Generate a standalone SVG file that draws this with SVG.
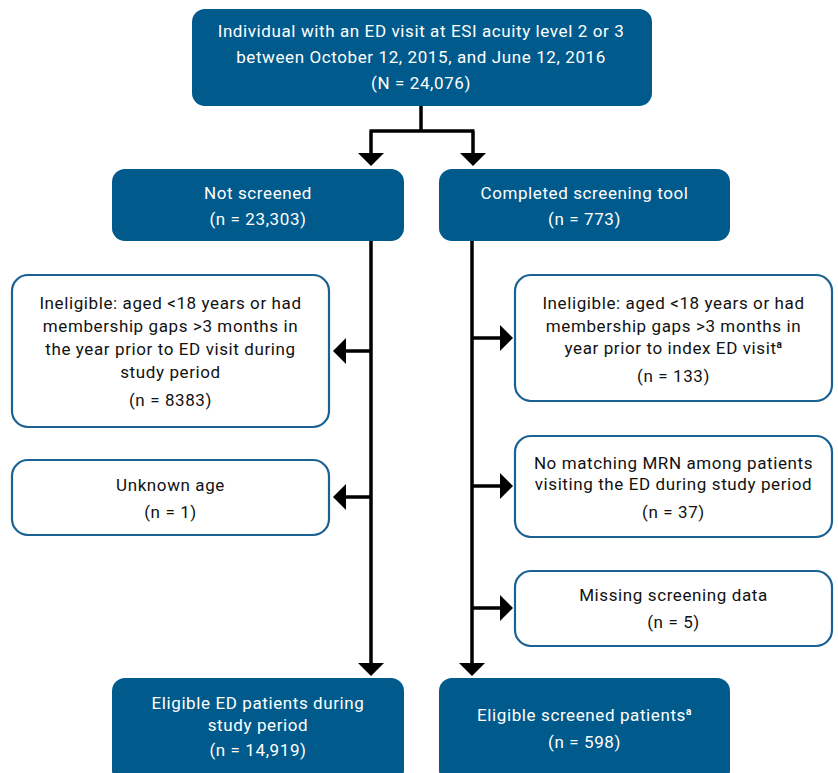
<svg xmlns="http://www.w3.org/2000/svg" width="838" height="773" viewBox="0 0 838 773">
<style>
.fill{fill:#005a8c}
.out{fill:#fff;stroke:#1b6194;stroke-width:2.2}
text{font-family:"Roboto","Liberation Sans",sans-serif;font-size:17px;text-anchor:middle;letter-spacing:0.6px}
.w{fill:#fff}
.k{fill:#111}
.sup{font-size:10px;font-weight:bold}
.ln{stroke:#000;stroke-width:3.5;fill:none}
</style>
<g id="connectors">
<path class="ln" d="M421,106 V131 M369.5,131 H474.5 M371,131 V154 M473,131 V154"/>
<polygon points="358,153 384,153 371,166"/>
<polygon points="460,153 486,153 473,166"/>
<path class="ln" d="M371,241 V664"/>
<path class="ln" d="M472,241 V664"/>
<polygon points="358,663 384,663 371,676"/>
<polygon points="459,663 485,663 472,676"/>
<path class="ln" d="M371,351 H345 M371,497 H345 M472,338 H501 M472,486 H501 M472,608 H501"/>
<polygon points="346,338 346,364 333,351"/>
<polygon points="346,484 346,510 333,497"/>
<polygon points="500,325 500,351 513,338"/>
<polygon points="500,473 500,499 513,486"/>
<polygon points="500,595 500,621 513,608"/>
</g>
<g id="n-top">
<rect class="fill" x="192" y="9" width="460" height="97" rx="13"/>
<text class="w" x="421" y="37">Individual with an ED visit at ESI acuity level 2 or 3</text>
<text class="w" x="421" y="63">between October 12, 2015, and June 12, 2016</text>
<text class="w" x="421" y="89">(N = 24,076)</text>
</g>
<g id="n-notscreened">
<rect class="fill" x="112" y="169" width="292" height="72" rx="13"/>
<text class="w" x="258" y="199">Not screened</text>
<text class="w" x="258" y="225">(n = 23,303)</text>
</g>
<g id="n-completed">
<rect class="fill" x="439" y="169" width="291" height="72" rx="13"/>
<text class="w" x="584.5" y="199">Completed screening tool</text>
<text class="w" x="584.5" y="225">(n = 773)</text>
</g>
<g id="n-inelig-left">
<rect class="out" x="12" y="275" width="317" height="152" rx="16"/>
<text class="k" x="170.5" y="309">Ineligible: aged &lt;18 years or had</text>
<text class="k" x="170.5" y="332">membership gaps &gt;3 months in</text>
<text class="k" x="170.5" y="355">the year prior to ED visit during</text>
<text class="k" x="170.5" y="378">study period</text>
<text class="k" x="170.5" y="406">(n = 8383)</text>
</g>
<g id="n-unknown">
<rect class="out" x="12" y="460" width="317" height="75" rx="16"/>
<text class="k" x="170.5" y="491">Unknown age</text>
<text class="k" x="170.5" y="518">(n = 1)</text>
</g>
<g id="n-inelig-right">
<rect class="out" x="515" y="275" width="317" height="126" rx="16"/>
<text class="k" x="673.5" y="309">Ineligible: aged &lt;18 years or had</text>
<text class="k" x="673.5" y="332">membership gaps &gt;3 months in</text>
<text class="k" x="673.5" y="354">year prior to index ED visit<tspan class="sup" dy="-6">a</tspan></text>
<text class="k" x="673.5" y="382">(n = 133)</text>
</g>
<g id="n-nomrn">
<rect class="out" x="515" y="436" width="317" height="101" rx="16"/>
<text class="k" x="673.5" y="469">No matching MRN among patients</text>
<text class="k" x="673.5" y="490">visiting the ED during study period</text>
<text class="k" x="673.5" y="518">(n = 37)</text>
</g>
<g id="n-missing">
<rect class="out" x="515" y="571" width="317" height="75" rx="16"/>
<text class="k" x="673.5" y="601">Missing screening data</text>
<text class="k" x="673.5" y="628">(n = 5)</text>
</g>
<g id="n-eligible-ed">
<rect class="fill" x="112" y="678" width="292" height="105" rx="13"/>
<text class="w" x="258" y="709">Eligible ED patients during</text>
<text class="w" x="258" y="731">study period</text>
<text class="w" x="258" y="756">(n = 14,919)</text>
</g>
<g id="n-eligible-screened">
<rect class="fill" x="439" y="678" width="291" height="105" rx="13"/>
<text class="w" x="584.5" y="721">Eligible screened patients<tspan class="sup" dy="-6">a</tspan></text>
<text class="w" x="584.5" y="748">(n = 598)</text>
</g>
</svg>
